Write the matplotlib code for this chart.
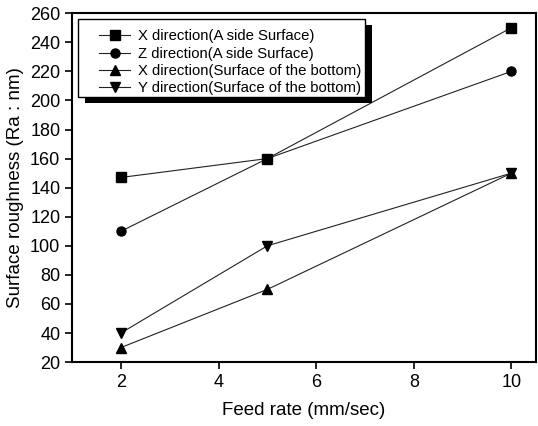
"""Surface roughness vs feed rate, recreated in matplotlib."""
import matplotlib
matplotlib.use('Agg')
import matplotlib.pyplot as plt
from matplotlib.patches import Rectangle

plt.rcParams['font.family'] = ['Liberation Sans', 'DejaVu Sans']

# ── Data ──────────────────────────────────────────────────────────────────────
feed_rate = [2, 5, 10]
x_side = [147, 160, 250]
z_side = [110, 160, 220]
x_bottom = [30, 70, 150]
y_bottom = [40, 100, 150]

labels = [
    'X direction(A side Surface)',
    'Z direction(A side Surface)',
    'X direction(Surface of the bottom)',
    'Y direction(Surface of the bottom)',
]
markers = ['s', 'o', '^', 'v']
x_ticks = [2, 4, 6, 8, 10]
y_ticks = list(range(20, 261, 20))

fig = plt.figure(figsize=(5.38, 4.26), dpi=100)
ax = fig.add_axes([0.134, 0.150, 0.862, 0.819])

for ys, m, lab in zip([x_side, z_side, x_bottom, y_bottom], markers, labels):
    ax.plot(feed_rate, ys, color='#222222', linewidth=0.8, marker=m,
            markersize=6.5, markerfacecolor='black', markeredgecolor='black',
            label=lab)

ax.set_xlim(1, 10.5)
ax.set_ylim(20, 260)
ax.set_xticks(x_ticks)
ax.set_yticks(y_ticks)
ax.tick_params(direction='out', length=5, width=1.2, labelsize=13,
               top=False, right=False)
for s in ax.spines.values():
    s.set_linewidth(1.5)

ax.set_xlabel('Feed rate (mm/sec)', fontsize=13.5, labelpad=8)
ax.set_ylabel('Surface roughness (Ra : nm)', fontsize=13.5, labelpad=4)

# legend without its own frame; the Origin-style box is drawn below
leg = ax.legend(loc='upper left', bbox_to_anchor=(0.052, 0.962), fontsize=10.7,
                numpoints=1, handlelength=2.1, labelspacing=0.22,
                frameon=False, borderpad=0.2, handletextpad=0.5,
                borderaxespad=0)
leg.set_zorder(6)

fig.canvas.draw()
bb = leg.get_window_extent()
inv = fig.transFigure.inverted()
H = fig.bbox.height
left, top = 78, H - 19
right, bottom = bb.x1 + 1, bb.y0 + 1

def fig_rect(x0, y0, x1, y1, **kw):
    (a, b) = inv.transform((x0, y0))
    (c, d) = inv.transform((x1, y1))
    return Rectangle((a, b), c - a, d - b, transform=fig.transFigure,
                     clip_on=False, **kw)

# black drop shadow, then white box with black edge
ax.add_artist(fig_rect(left + 7, bottom - 6, right + 7, top - 6,
                       facecolor='black', edgecolor='none', zorder=4))
ax.add_artist(fig_rect(left, bottom, right, top, facecolor='white',
                       edgecolor='black', linewidth=1.0, zorder=5))

fig.savefig('out.png', dpi=100)
